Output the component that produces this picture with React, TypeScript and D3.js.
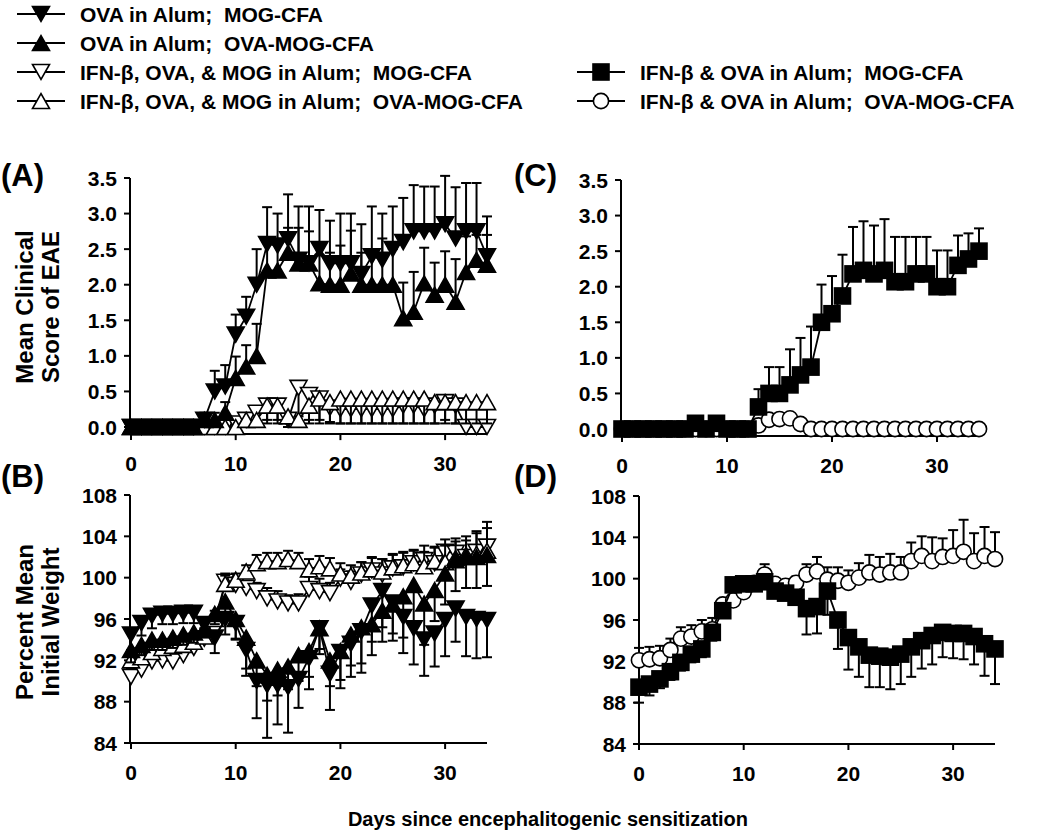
import React from 'react';
import * as d3 from 'd3';

// ---------------- DATA ----------------
const DAYS = d3.range(0, 35);
const X_TICKS = [0, 10, 20, 30];
const SCORE_TICKS = [0, 0.5, 1, 1.5, 2, 2.5, 3, 3.5];
const WEIGHT_TICKS = [84, 88, 92, 96, 100, 104, 108];

const LEGEND_LEFT = [
  'OVA in Alum;  MOG-CFA',
  'OVA in Alum;  OVA-MOG-CFA',
  'IFN-β, OVA, & MOG in Alum;  MOG-CFA',
  'IFN-β, OVA, & MOG in Alum;  OVA-MOG-CFA',
];
const LEGEND_RIGHT = ['IFN-β & OVA in Alum;  MOG-CFA', 'IFN-β & OVA in Alum;  OVA-MOG-CFA'];

// Panel A: clinical score
const A_OVA_MOG = [0, 0, 0, 0, 0, 0, 0, 0.1, 0.5, 0.57, 1.3, 1.55, 2.0, 2.57, 2.55, 2.64, 2.35, 2.3, 2.5, 2.3, 2.3, 2.3, 2.15, 2.4, 2.35, 2.5, 2.6, 2.75, 2.75, 2.75, 2.85, 2.65, 2.75, 2.75, 2.4];
const A_OVA_MOG_SEM = [0, 0, 0, 0, 0, 0, 0, 0.1, 0.29, 0.3, 0.28, 0.28, 0.5, 0.52, 0.45, 0.63, 0.75, 0.8, 0.55, 0.6, 0.7, 0.7, 0.7, 0.7, 0.65, 0.6, 0.62, 0.65, 0.63, 0.63, 0.68, 0.72, 0.68, 0.68, 0.56];
const A_OVA_OVAMOG = [0, 0, 0, 0, 0, 0, 0, 0.1, 0.1, 0.2, 0.69, 0.85, 1.0, 2.2, 2.2, 2.45, 2.3, 2.3, 2.02, 2.0, 2.0, 2.16, 2.0, 2.0, 2.0, 2.0, 1.53, 1.62, 2.02, 1.86, 2.0, 1.76, 2.18, 2.35, 2.28];
const A_OVA_OVAMOG_SEM = [0, 0, 0, 0, 0, 0, 0, 0.05, 0.1, 0.15, 0.3, 0.3, 0.45, 0.4, 0.4, 0.35, 0.5, 0.45, 0.4, 0.45, 0.55, 0.6, 0.45, 0.5, 0.65, 0.5, 0.5, 0.56, 0.5, 0.45, 0.47, 0.6, 0.5, 0.35, 0.42];
const A_IFN_MOG = [0, 0, 0, 0, 0, 0, 0, 0, 0, 0, 0.05, 0.1, 0.2, 0.3, 0.3, 0.1, 0.55, 0.45, 0.4, 0.27, 0.25, 0.25, 0.25, 0.25, 0.25, 0.25, 0.3, 0.3, 0.25, 0.3, 0.35, 0.3, 0, 0, 0];
const A_IFN_MOG_SEM = [0, 0, 0, 0, 0, 0, 0, 0, 0, 0, 0.05, 0.1, 0.15, 0.2, 0.2, 0.1, 0.4, 0.35, 0.3, 0.2, 0.2, 0.2, 0.2, 0.2, 0.2, 0.2, 0.25, 0.25, 0.2, 0.25, 0.25, 0.25, 0, 0, 0];
const A_IFN_OVAMOG = [0, 0, 0, 0, 0, 0, 0, 0, 0, 0, 0, 0.1, 0.1, 0.3, 0.3, 0.15, 0.1, 0.3, 0.4, 0.35, 0.4, 0.4, 0.4, 0.4, 0.4, 0.4, 0.4, 0.4, 0.4, 0.35, 0.35, 0.35, 0.35, 0.35, 0.35];
const A_IFN_OVAMOG_SEM = [0, 0, 0, 0, 0, 0, 0, 0, 0, 0, 0, 0.1, 0.1, 0.25, 0.25, 0.15, 0.1, 0.25, 0.35, 0.3, 0.35, 0.35, 0.35, 0.35, 0.35, 0.35, 0.35, 0.35, 0.35, 0.3, 0.3, 0.3, 0.3, 0.3, 0.3];

// Panel B: weight
const B_OVA_MOG = [94.5, 95.6, 96.3, 96.5, 96.5, 96.6, 96.6, 95.5, 94.2, 96.0, 95.6, 93.0, 90.0, 89.6, 89.6, 89.4, 90.2, 92.2, 95.1, 90.7, 92.8, 93.6, 94.8, 97.3, 98.7, 97.6, 96.2, 95.1, 94.0, 94.6, 95.9, 97.0, 96.2, 96.0, 95.9];
const B_OVA_MOG_SEM = [1.5, 1.2, 1.2, 1.0, 1.0, 1.0, 1.0, 1.0, 1.5, 1.5, 1.5, 2.5, 3.6, 5.1, 3.8, 4.4, 2.8, 3.0, 2.5, 3.5, 3.5, 3.2, 4.0, 3.5, 3.5, 3.0, 3.5, 3.5, 3.5, 3.2, 3.5, 3.2, 3.8, 3.8, 3.6];
const B_OVA_OVAMOG = [93.0, 93.5, 94.0, 94.0, 94.2, 94.5, 94.7, 95.0, 96.5, 97.7, 96.0, 94.2, 92.0, 90.6, 91.1, 91.4, 92.5, 92.9, 95.1, 92.0, 92.9, 94.5, 95.2, 95.5, 96.8, 97.4, 98.2, 99.3, 97.5, 98.8, 100.4, 101.7, 102.0, 102.0, 102.2];
const B_OVA_OVAMOG_SEM = [1.2, 1.0, 1.0, 1.0, 1.0, 1.0, 1.0, 0.8, 1.0, 1.5, 2.0, 3.0, 2.5, 2.5, 2.5, 2.2, 2.5, 2.5, 2.0, 2.5, 2.8, 3.0, 3.5, 3.0, 3.0, 3.5, 4.0, 3.5, 4.0, 3.0, 3.0, 3.0, 3.0, 3.0, 3.0];
const B_IFN_MOG = [90.4, 91.1, 91.9, 92.0, 91.9, 92.5, 93.2, 94.1, 95.0, 99.6, 99.3, 99.0, 98.7, 98.0, 97.7, 97.5, 97.5, 98.9, 98.7, 98.5, 99.9, 99.6, 100.3, 100.7, 100.3, 100.9, 101.0, 101.4, 101.7, 101.4, 102.5, 102.4, 102.0, 102.5, 103.0];
const B_IFN_MOG_SEM = [0.8, 0.8, 0.8, 0.8, 0.8, 0.8, 0.8, 0.8, 0.8, 0.8, 0.6, 0.6, 0.8, 1.0, 1.0, 0.8, 0.9, 1.2, 1.2, 1.0, 0.9, 1.0, 1.2, 1.2, 1.5, 1.4, 1.5, 1.3, 1.4, 1.5, 1.2, 1.4, 1.6, 2.0, 2.4];
const B_IFN_OVAMOG = [92.0, 92.3, 92.8, 93.2, 93.4, 93.5, 93.8, 94.3, 96.0, 99.4, 99.8, 100.6, 101.4, 101.6, 101.6, 101.8, 101.6, 100.8, 101.1, 100.9, 100.4, 100.2, 100.5, 100.8, 100.6, 101.0, 101.2, 101.4, 101.1, 101.6, 101.5, 101.9, 102.2, 102.3, 102.6];
const B_IFN_OVAMOG_SEM = [0.8, 0.8, 0.8, 0.8, 0.8, 0.8, 0.8, 0.8, 0.8, 0.8, 0.6, 0.6, 0.8, 0.8, 0.8, 0.8, 0.8, 1.0, 1.0, 1.0, 1.0, 1.0, 1.0, 1.2, 1.2, 1.2, 1.2, 1.2, 1.4, 1.4, 1.6, 1.6, 1.8, 2.0, 2.2];

// Panel C: clinical score
const C_IFNOVA_MOG = [0, 0, 0, 0, 0, 0, 0, 0.08, 0, 0.08, 0, 0, 0, 0.31, 0.5, 0.5, 0.62, 0.76, 0.87, 1.5, 1.62, 1.87, 2.18, 2.23, 2.18, 2.23, 2.07, 2.07, 2.18, 2.18, 2.0, 2.0, 2.3, 2.39, 2.5];
const C_IFNOVA_MOG_SEM = [0, 0, 0, 0, 0, 0, 0, 0, 0, 0, 0, 0, 0, 0.25, 0.37, 0.37, 0.5, 0.52, 0.57, 0.53, 0.53, 0.58, 0.66, 0.69, 0.68, 0.72, 0.63, 0.63, 0.52, 0.52, 0.51, 0.51, 0.42, 0.36, 0.32];
const C_IFNOVA_OVAMOG = [0, 0, 0, 0, 0, 0, 0, 0, 0, 0, 0, 0, 0, 0.05, 0.13, 0.14, 0.15, 0.07, 0, 0, 0, 0, 0, 0, 0, 0, 0, 0, 0, 0, 0, 0, 0, 0, 0];
const C_IFNOVA_OVAMOG_SEM = [0, 0, 0, 0, 0, 0, 0, 0, 0, 0, 0, 0, 0, 0, 0, 0, 0, 0, 0, 0, 0, 0, 0, 0, 0, 0, 0, 0, 0, 0, 0, 0, 0, 0, 0];

// Panel D: weight
const D_IFNOVA_MOG = [89.5, 89.8, 90.3, 91.0, 91.9, 92.7, 93.2, 94.8, 96.9, 99.4, 99.5, 99.5, 99.7, 98.8, 98.6, 98.2, 97.1, 97.3, 98.8, 96.0, 94.3, 93.4, 92.6, 92.5, 92.4, 92.7, 93.4, 94.0, 94.5, 94.8, 94.7, 94.7, 94.4, 93.7, 93.2];
const D_IFNOVA_MOG_SEM = [1.5, 1.1, 0.9, 0.8, 0.8, 0.8, 0.8, 0.8, 0.5, 0.3, 0.3, 0.3, 0.3, 0.4, 0.5, 0.7, 2.5, 2.6, 2.3, 2.8, 3.1, 2.9, 3.1, 3.0, 3.1, 2.9, 2.9, 2.7, 2.8, 2.4, 2.4, 2.5, 2.7, 3.1, 3.4];
const D_IFNOVA_OVAMOG = [92.1, 92.2, 92.3, 93.1, 94.2, 94.4, 94.9, 95.1, 97.5, 97.9, 98.7, 99.6, 100.4, 99.5, 99.3, 99.6, 100.4, 100.7, 99.9, 99.8, 99.6, 100.1, 100.6, 100.4, 100.6, 100.6, 101.7, 102.2, 101.7, 102.1, 102.2, 102.6, 101.7, 102.2, 101.9];
const D_IFNOVA_OVAMOG_SEM = [1.2, 1.2, 1.2, 1.1, 1.1, 1.1, 1.1, 1.1, 0.5, 0.5, 0.5, 0.5, 1.0, 0.5, 0.5, 0.6, 1.0, 1.4, 1.2, 1.3, 1.2, 1.4, 1.7, 1.7, 1.8, 1.5, 1.8, 1.9, 2.3, 1.8, 2.5, 3.1, 2.7, 2.8, 2.6];

// ---------------- RENDERING ----------------
const FONT = '"Liberation Sans", Arial, Helvetica, sans-serif';
type Sym = 'down' | 'up' | 'square' | 'circle';

interface Series {
  values: number[];
  sem: number[];
  dir: 1 | -1; // error bar direction (+1 up, -1 down)
  sym: Sym;
  filled: boolean;
}

function Marker({ sym, filled, x, y }: { sym: Sym; filled: boolean; x: number; y: number }) {
  const fill = filled ? '#000' : '#fff';
  const common = { fill, stroke: '#000', strokeWidth: 1.6 };
  const w = 17, h = 15;
  if (sym === 'circle') return <circle cx={x} cy={y} r={7.6} {...common} />;
  if (sym === 'square') return <rect x={x - 8} y={y - 8} width={16} height={16} {...common} />;
  if (sym === 'down')
    return <path d={`M${x - w / 2},${y - h / 2}L${x + w / 2},${y - h / 2}L${x},${y + h / 2}Z`} {...common} />;
  return <path d={`M${x - w / 2},${y + h / 2}L${x + w / 2},${y + h / 2}L${x},${y - h / 2}Z`} {...common} />;
}

function SeriesG({ s, x, y }: { s: Series; x: d3.ScaleLinear<number, number>; y: d3.ScaleLinear<number, number> }) {
  const line = d3
    .line<number>()
    .x((_, i) => x(DAYS[i]))
    .y((v) => y(v));
  return (
    <g>
      {s.values.map((v, i) =>
        s.sem[i] > 0 ? (
          <g key={'e' + i} stroke="#000" strokeWidth={2}>
            <line x1={x(DAYS[i])} x2={x(DAYS[i])} y1={y(v)} y2={y(v + s.dir * s.sem[i])} />
            <line x1={x(DAYS[i]) - 5} x2={x(DAYS[i]) + 5} y1={y(v + s.dir * s.sem[i])} y2={y(v + s.dir * s.sem[i])} />
          </g>
        ) : null
      )}
      <path d={line(s.values) || ''} fill="none" stroke="#000" strokeWidth={1.8} />
      {s.values.map((v, i) => (
        <Marker key={'m' + i} sym={s.sym} filled={s.filled} x={x(DAYS[i])} y={y(v)} />
      ))}
    </g>
  );
}

interface PanelProps {
  x: d3.ScaleLinear<number, number>;
  y: d3.ScaleLinear<number, number>;
  axisX: number;
  axisY: number;
  yTicks: number[];
  yFmt: (v: number) => string;
  series: Series[];
}

function Panel({ x, y, axisX, axisY, yTicks, yFmt, series }: PanelProps) {
  const xEnd = x(34);
  const yTop = y(yTicks[yTicks.length - 1]);
  return (
    <g fontFamily={FONT} fontWeight="bold">
      <line x1={axisX} x2={axisX} y1={yTop} y2={axisY} stroke="#000" strokeWidth={2} />
      <line x1={axisX} x2={xEnd} y1={axisY} y2={axisY} stroke="#000" strokeWidth={2} />
      {yTicks.map((t) => (
        <g key={'yt' + t}>
          <line x1={axisX - 6} x2={axisX} y1={y(t)} y2={y(t)} stroke="#000" strokeWidth={2} />
          <text x={axisX - 13} y={y(t)} dy="0.36em" textAnchor="end" fontSize={21}>
            {yFmt(t)}
          </text>
        </g>
      ))}
      {X_TICKS.map((t) => (
        <g key={'xt' + t}>
          <line x1={x(t)} x2={x(t)} y1={axisY} y2={axisY + 6} stroke="#000" strokeWidth={2} />
          <text x={x(t)} y={axisY + 37} textAnchor="middle" fontSize={21}>
            {t}
          </text>
        </g>
      ))}
      {series.map((s, i) => (
        <SeriesG key={i} s={s} x={x} y={y} />
      ))}
    </g>
  );
}

function LegendItem({ x0, y, sym, filled, label }: { x0: number; y: number; sym: Sym; filled: boolean; label: string }) {
  return (
    <g>
      <line x1={x0} x2={x0 + 48} y1={y} y2={y} stroke="#000" strokeWidth={2} />
      <Marker sym={sym} filled={filled} x={x0 + 24} y={y} />
      <text x={x0 + 63} y={y} dy="0.36em" fontSize={21} fontFamily={FONT} fontWeight="bold" style={{ whiteSpace: 'pre' }}>
        {label}
      </text>
    </g>
  );
}

export default function App() {
  const xA = d3.scaleLinear().domain([0, 34]).range([131, 487]);
  const yA = d3.scaleLinear().domain([0, 3.5]).range([427, 178]);
  const xB = d3.scaleLinear().domain([0, 34]).range([131, 487]);
  const yB = d3.scaleLinear().domain([84, 108]).range([743, 495]);
  const xC = d3.scaleLinear().domain([0, 34]).range([622, 979]);
  const yC = d3.scaleLinear().domain([0, 3.5]).range([429, 180]);
  const xD = d3.scaleLinear().domain([0, 34]).range([639, 995]);
  const yD = d3.scaleLinear().domain([84, 108]).range([744, 496]);

  const f1 = d3.format('.1f');
  const f0 = d3.format('d');

  const seriesA: Series[] = [
    { values: A_IFN_MOG, sem: A_IFN_MOG_SEM, dir: -1, sym: 'down', filled: false },
    { values: A_IFN_OVAMOG, sem: A_IFN_OVAMOG_SEM, dir: -1, sym: 'up', filled: false },
    { values: A_OVA_OVAMOG, sem: A_OVA_OVAMOG_SEM, dir: 1, sym: 'up', filled: true },
    { values: A_OVA_MOG, sem: A_OVA_MOG_SEM, dir: 1, sym: 'down', filled: true },
  ];
  const seriesB: Series[] = [
    { values: B_IFN_MOG, sem: B_IFN_MOG_SEM, dir: 1, sym: 'down', filled: false },
    { values: B_IFN_OVAMOG, sem: B_IFN_OVAMOG_SEM, dir: 1, sym: 'up', filled: false },
    { values: B_OVA_OVAMOG, sem: B_OVA_OVAMOG_SEM, dir: -1, sym: 'up', filled: true },
    { values: B_OVA_MOG, sem: B_OVA_MOG_SEM, dir: -1, sym: 'down', filled: true },
  ];
  const seriesC: Series[] = [
    { values: C_IFNOVA_OVAMOG, sem: C_IFNOVA_OVAMOG_SEM, dir: 1, sym: 'circle', filled: false },
    { values: C_IFNOVA_MOG, sem: C_IFNOVA_MOG_SEM, dir: 1, sym: 'square', filled: true },
  ];
  const seriesD: Series[] = [
    { values: D_IFNOVA_OVAMOG, sem: D_IFNOVA_OVAMOG_SEM, dir: 1, sym: 'circle', filled: false },
    { values: D_IFNOVA_MOG, sem: D_IFNOVA_MOG_SEM, dir: -1, sym: 'square', filled: true },
  ];

  const legendSyms: [Sym, boolean][] = [
    ['down', true],
    ['up', true],
    ['down', false],
    ['up', false],
  ];
  const legendRightSyms: [Sym, boolean][] = [
    ['square', true],
    ['circle', false],
  ];
  const legendRows = [14, 43, 72, 101];

  return (
    <svg
      width={1050}
      height={832}
      viewBox="0 0 1050 832"
      style={{ position: 'absolute', left: 0, top: 0, background: '#fff' }}
    >
      <rect x={0} y={0} width={1050} height={832} fill="#fff" />
      {LEGEND_LEFT.map((lab, i) => (
        <LegendItem key={'ll' + i} x0={17} y={legendRows[i]} sym={legendSyms[i][0]} filled={legendSyms[i][1]} label={lab} />
      ))}
      {LEGEND_RIGHT.map((lab, i) => (
        <LegendItem key={'lr' + i} x0={577} y={legendRows[i + 2]} sym={legendRightSyms[i][0]} filled={legendRightSyms[i][1]} label={lab} />
      ))}

      <g fontFamily={FONT} fontWeight="bold" fontSize={31}>
        <text x={1} y={186}>(A)</text>
        <text x={1} y={487}>(B)</text>
        <text x={514} y={186}>(C)</text>
        <text x={514} y={487}>(D)</text>
      </g>

      <g fontFamily={FONT} fontWeight="bold" fontSize={24} textAnchor="middle">
        <text transform="translate(25,307) rotate(-90)" dy="0.35em">Mean Clinical</text>
        <text transform="translate(51,307) rotate(-90)" dy="0.35em">Score of EAE</text>
        <text transform="translate(25,622) rotate(-90)" dy="0.35em">Percent Mean</text>
        <text transform="translate(51,622) rotate(-90)" dy="0.35em">Initial Weight</text>
      </g>

      <Panel x={xA} y={yA} axisX={130} axisY={yA(-0.1)} yTicks={SCORE_TICKS} yFmt={f1} series={seriesA} />
      <Panel x={xB} y={yB} axisX={130} axisY={yB(84)} yTicks={WEIGHT_TICKS} yFmt={f0} series={seriesB} />
      <Panel x={xC} y={yC} axisX={621} axisY={yC(-0.1)} yTicks={SCORE_TICKS} yFmt={f1} series={seriesC} />
      <Panel x={xD} y={yD} axisX={639} axisY={yD(84)} yTicks={WEIGHT_TICKS} yFmt={f0} series={seriesD} />

      <text x={548} y={826} textAnchor="middle" fontFamily={FONT} fontWeight="bold" fontSize={20}>
        Days since encephalitogenic sensitization
      </text>
    </svg>
  );
}
